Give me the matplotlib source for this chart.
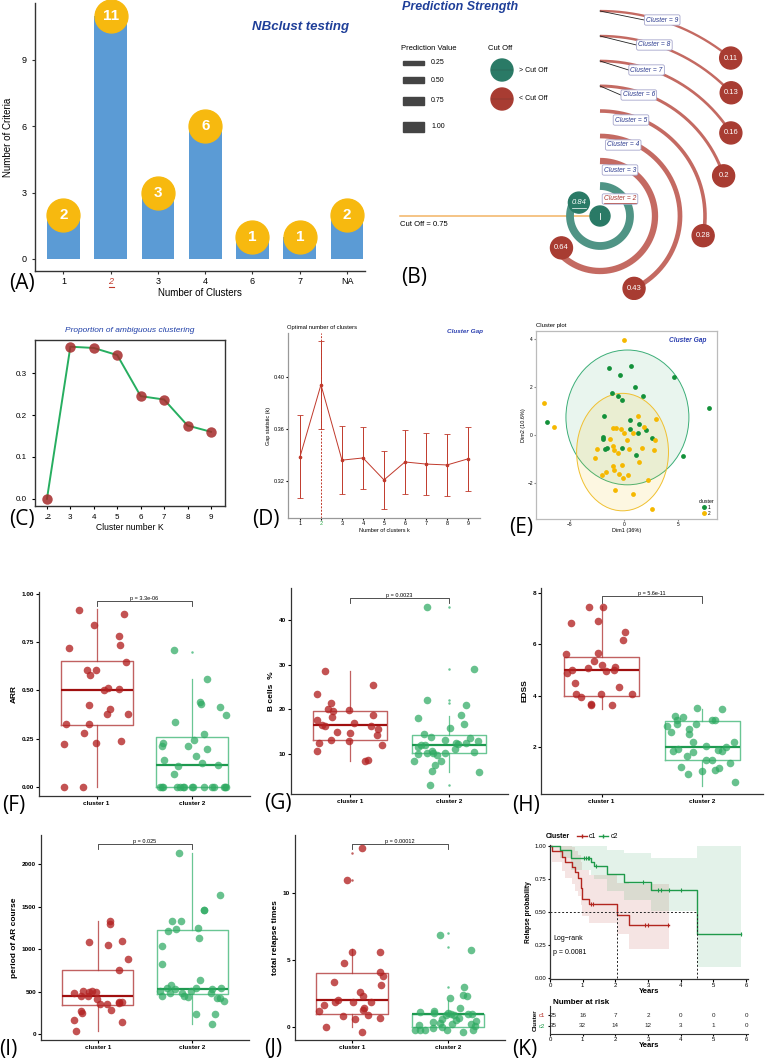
import numpy as np
import matplotlib
matplotlib.use('Agg')
import matplotlib.pyplot as plt
from matplotlib.patches import Circle, Ellipse, Rectangle
from matplotlib.lines import Line2D

plt.rcParams['font.family'] = ['Liberation Sans', 'DejaVu Sans']

# ---- data ----
# (A) NbClust votes
nb_labels = ['1', '2', '3', '4', '6', '7', 'NA']
nb_counts = [2, 11, 3, 6, 1, 1, 2]

# (B) prediction strength
ps_k = [2, 3, 4, 5, 6, 7, 8, 9]
ps_val = [0.84, 0.64, 0.43, 0.28, 0.20, 0.16, 0.13, 0.11]
ps_cutoff = 0.75

# (C) proportion of ambiguous clustering
pac_k = [2, 3, 4, 5, 6, 7, 8, 9]
pac_val = [0.0, 0.363, 0.360, 0.343, 0.245, 0.237, 0.175, 0.160]

# (D) gap statistic
gap_k = [1, 2, 3, 4, 5, 6, 7, 8, 9]
gap_val = [0.3385, 0.394, 0.336, 0.3377, 0.3208, 0.3346, 0.333, 0.3323, 0.337]
gap_se = [0.032, 0.034, 0.026, 0.024, 0.022, 0.0245, 0.024, 0.024, 0.0245]

# (E) cluster plot
e1_x = [-1.38, 0.67, -0.37, 4.63, 1.04, -1.10, -0.55, 1.75, -0.18, 7.82, -7.12, -1.90, 0.52,
        1.41, 0.52, 2.02, 1.32, -1.99, -1.96, 2.61, -1.60, -1.75, -0.18, 1.10, 5.49]
e1_y = [2.81, 2.87, 2.52, 2.43, 1.99, 1.75, 1.64, 1.61, 1.45, 1.12, 0.57, 0.80, 0.62,
        0.48, 0.25, 0.23, 0.10, -0.06, -0.15, -0.11, -0.52, -0.57, -0.51, -0.81, -0.88]
e2_x = [0.03, -7.39, -6.47, 1.26, 2.94, -0.71, -1.04, 1.84, -0.03, 0.86, 2.85, -1.29, 0.28,
        -2.55, -1.04, -0.89, -0.55, 0.43, 1.66, 2.73, -2.67, 1.38, -1.01, -0.18, -0.89,
        -1.69, -2.06, -0.46, 0.37, -0.06, 2.21, -0.80, 0.80, 2.58, -0.25]
e2_y = [3.96, 1.32, 0.36, 0.80, 0.68, 0.30, 0.28, 0.34, 0.08, 0.11, -0.21, -0.17, -0.21,
        -0.57, -0.43, -0.63, -0.72, -0.59, -0.55, -0.62, -0.94, -1.12, -1.28, -1.23, -1.43,
        -1.53, -1.66, -1.63, -1.67, -1.79, -1.85, -2.29, -2.44, -3.06, 0.25]
e1_ell = (0.31, 0.74, 5.69, 2.80)
e2_ell = (-0.14, -0.70, 4.25, 2.44)

# (F) ARR
arr_c1_x = [0.816, 1.288, 0.972, 1.229, 1.243, 0.712, 1.306, 0.896, 0.997, 0.931, 1.118, 1.080, 1.236,
            0.924, 1.142, 1.104, 1.323, 0.681, 0.924, 0.872, 0.660, 0.997, 1.257, 0.660, 0.861]
arr_c1_y = [0.918, 0.894, 0.840, 0.781, 0.736, 0.720, 0.649, 0.604, 0.608, 0.578, 0.512, 0.503, 0.509,
            0.422, 0.406, 0.378, 0.378, 0.325, 0.328, 0.280, 0.224, 0.227, 0.236, 0.0, 0.0]
arr_c2_x = [1.806, 2.153, 1.823, 2.076, 2.094, 2.288, 2.347, 1.694, 1.681, 2.017, 1.958, 2.122, 2.153,
            2.042, 1.705, 1.854, 2.104, 2.267, 1.809, 1.66, 1.684, 1.844, 1.875, 1.91, 1.997, 2.003,
            2.125, 2.205, 2.222, 2.33, 2.34, 2.35, 1.694, 1.903]
arr_c2_y = [0.708, 0.559, 0.339, 0.441, 0.431, 0.415, 0.375, 0.229, 0.214, 0.243, 0.214, 0.276, 0.194,
            0.161, 0.139, 0.111, 0.125, 0.116, 0.068] + [0.0] * 15
arr_box = [dict(med=0.50, q1=0.32, q3=0.65, whislo=0.0, whishi=0.92, fliers=[]),
           dict(med=0.115, q1=0.0, q3=0.26, whislo=0.0, whishi=0.56, fliers=[0.70])]

# (G) B cells %
bc_c1_x = [0.742, 1.227, 0.664, 0.803, 0.780, 0.827, 0.983, 0.814, 1.234, 0.668, 1.034, 0.715, 0.749,
           1.213, 1.285, 0.871, 1.0, 1.271, 0.803, 0.993, 0.688, 1.322, 0.664, 1.149, 1.180]
bc_c1_y = [28.5, 25.4, 23.5, 21.5, 20.0, 19.7, 19.8, 18.2, 18.7, 17.5, 17.0, 16.4, 16.3,
           16.3, 15.5, 14.9, 14.7, 14.2, 13.1, 12.8, 12.5, 11.9, 10.7, 8.5, 8.6]
bc_c2_x = [1.776, 2.254, 1.776, 2.173, 1.685, 2.119, 2.153, 2.010, 1.746, 2.214, 1.820, 1.959, 2.298,
           2.068, 1.715, 1.759, 2.095, 2.173, 1.692, 2.064, 2.254, 1.783, 1.830, 1.837, 1.692,
           1.959, 1.885, 1.925, 1.651, 1.861, 1.827, 2.308, 1.813]
bc_c2_y = [43.0, 29.0, 22.0, 20.9, 18.0, 18.7, 16.7, 15.7, 14.5, 13.6, 13.8, 13.2, 12.9,
           12.5, 12.0, 11.9, 12.2, 12.5, 11.6, 11.2, 10.4, 10.2, 10.6, 10.3, 9.9,
           10.2, 9.7, 8.5, 8.4, 7.5, 6.1, 5.95, 3.0]
bc_box = [dict(med=16.4, q1=13.2, q3=19.6, whislo=8.5, whishi=28.5, fliers=[]),
          dict(med=12.0, q1=10.1, q3=14.2, whislo=6.0, whishi=18.6, fliers=[3.0, 21.5, 22.0, 29.0, 43.0])]

# (H) EDSS
ed_c1_x = [0.874, 1.01, 0.70, 0.964, 1.228, 1.209, 0.652, 0.964, 0.93, 1.0, 0.864, 1.136, 0.705,
           1.043, 1.123, 0.662, 0.738, 1.169, 0.748, 0.795, 0.993, 1.298, 0.894, 0.897, 1.106]
ed_c1_y = [7.44, 7.44, 6.82, 6.90, 6.47, 6.16, 5.61, 5.66, 5.35, 5.19, 5.09, 5.14, 5.0,
           4.97, 5.0, 4.88, 4.50, 4.35, 4.06, 3.97, 4.07, 4.07, 3.68, 3.62, 3.63]
ed_c2_x = [1.947, 2.192, 1.725, 1.811, 1.745, 1.652, 2.096, 2.126, 1.745, 1.937, 1.871, 1.685, 1.864,
           1.904, 2.311, 1.755, 2.033, 2.235, 2.156, 2.192, 1.712, 1.904, 1.844, 2.033, 2.099,
           2.275, 1.785, 2.166, 2.129, 1.993, 1.861, 2.318]
ed_c2_y = [3.53, 3.50, 3.20, 3.17, 3.07, 2.82, 3.06, 3.04, 2.91, 2.91, 2.69, 2.60, 2.50,
           2.18, 2.20, 1.93, 2.03, 2.0, 1.87, 1.86, 1.84, 1.79, 1.66, 1.50, 1.48,
           1.39, 1.22, 1.18, 1.09, 1.06, 0.94, 0.62]
ed_box = [dict(med=5.0, q1=4.0, q3=5.5, whislo=3.5, whishi=7.5, fliers=[]),
          dict(med=2.0, q1=1.5, q3=3.0, whislo=0.5, whishi=3.5, fliers=[])]

# (I) period of AR course
pr_c1_x = [1.126, 1.126, 0.912, 1.109, 1.256, 1.323, 1.228, 0.747, 0.846, 0.905, 0.937, 0.982, 0.828,
           0.895, 0.993, 1.028, 1.098, 1.228, 1.253, 1.221, 1.140, 0.818, 0.835, 0.744, 1.253, 0.772]
pr_c1_y = [1333, 1298, 1086, 1051, 1094, 886, 757, 486, 506, 498, 506, 490, 451,
           447, 412, 353, 349, 376, 372, 368, 282, 270, 243, 165, 137, 39]
pr_c2_x = [1.863, 2.288, 2.123, 2.126, 1.786, 1.881, 2.060, 1.740, 1.832, 2.07, 1.684, 1.677, 2.081,
           1.779, 1.737, 1.818, 1.656, 1.888, 2.042, 2.204, 2.305, 1.677, 1.761, 1.916, 1.958,
           1.982, 2.196, 2.26, 2.291, 2.333, 2.039, 2.239, 2.211]
pr_c2_y = [2129, 1635, 1454, 1454, 1333, 1329, 1250, 1215, 1231, 1125, 1039, 819, 631,
           580, 537, 525, 510, 486, 537, 533, 545, 451, 478, 447, 431,
           510, 486, 427, 419, 392, 235, 231, 118]
pr_box = [dict(med=445, q1=345, q3=755, whislo=30, whishi=1330, fliers=[]),
          dict(med=535, q1=470, q3=1225, whislo=115, whishi=2125, fliers=[])]

# (J) total relapse times
rl_c1_x = [1.103, 0.945, 1.0, 1.286, 0.914, 1.293, 1.317, 0.81, 1.303, 1.086, 1.110, 0.852, 0.814,
           1.010, 1.197, 0.703, 1.128, 1.110, 0.652, 1.169, 0.907, 1.286, 1.028, 0.728, 1.1]
rl_c1_y = [13.35, 11.0, 5.6, 5.63, 4.8, 4.1, 3.83, 3.38, 3.15, 2.6, 2.35, 2.03, 1.88,
           1.88, 1.88, 1.65, 1.43, 1.25, 1.2, 0.93, 0.83, 0.7, 0.6, 0.0, -0.38]
rl_c2_x = [1.914, 2.245, 2.166, 2.021, 2.155, 2.197, 2.131, 1.707, 1.859, 1.859, 2.0, 2.038, 2.066,
           1.979, 2.214, 2.255, 2.117, 1.945, 2.09, 2.297, 1.841, 1.921, 1.697, 2.048, 2.245,
           2.283, 1.662, 1.707, 1.762, 1.845, 1.997, 1.938, 2.162, 2.266]
rl_c2_y = [6.85, 5.73, 2.98, 2.18, 2.4, 2.33, 1.43, 1.1, 1.23, 1.05, 1.05, 0.95, 0.88,
           0.9, 1.0, 0.98, 0.7, 0.63, 0.55, 0.48, 0.35, 0.3, 0.13, 0.23, 0.25,
           0.05, -0.2, -0.25, -0.2, -0.05, -0.25, 0.0, -0.38, -0.2]
rl_box = [dict(med=2, q1=1, q3=4, whislo=0, whishi=5.8, fliers=[11, 13]),
          dict(med=1, q1=0, q3=1, whislo=0, whishi=2, fliers=[3, 6, 7])]

# (K) Kaplan-Meier
km1_t = [0, 0.07, 0.36, 0.46, 0.66, 0.76, 0.86, 0.94, 0.99, 1.2, 2.05, 2.41, 3.65]
km1_s = [1.0, 0.96, 0.92, 0.88, 0.84, 0.80, 0.76, 0.68, 0.60, 0.56, 0.48, 0.40, 0.40]
km1_lo = [1.0, 0.88, 0.81, 0.76, 0.71, 0.66, 0.62, 0.55, 0.47, 0.42, 0.33, 0.22, 0.22]
km1_hi = [1.0, 1.0, 1.0, 1.0, 0.99, 0.96, 0.93, 0.88, 0.82, 0.78, 0.72, 0.71, 0.71]
km1_cens = [1.25, 1.32, 2.9, 3.0, 3.6]
km2_t = [0, 0.30, 0.64, 1.25, 1.35, 1.74, 2.25, 3.1, 4.5, 5.85]
km2_s = [1.0, 0.97, 0.91, 0.88, 0.85, 0.79, 0.73, 0.67, 0.335, 0.335]
km2_lo = [1.0, 0.91, 0.82, 0.78, 0.75, 0.66, 0.59, 0.51, 0.08, 0.08]
km2_hi = [1.0, 1.0, 1.0, 1.0, 1.0, 0.97, 0.95, 0.91, 1.0, 1.0]
km2_cens = [1.05, 1.1, 1.15, 1.2, 1.4, 2.85, 3.3, 3.4, 3.65, 4.0, 5.85]
risk_t = [0, 1, 2, 3, 4, 5, 6]
risk_c1 = [25, 16, 7, 2, 0, 0, 0]
risk_c2 = [35, 32, 14, 12, 3, 1, 0]

# ---- figure ----
W, H = 765, 1061
fig = plt.figure(figsize=(W / 100, H / 100), dpi=100)

RED = '#a8352f'
BLUE_T = '#1f3f99'


def add_ax(l, t, r, b):
    return fig.add_axes([l / W, 1 - b / H, (r - l) / W, (b - t) / H])


def ftext(x, y, s, **kw):
    fig.text(x / W, 1 - y / H, s, **kw)


def uline(xc, y, w, color, lw=0.8):
    fig.add_artist(Line2D([(xc - w / 2) / W, (xc + w / 2) / W], [1 - y / H, 1 - y / H],
                          color=color, lw=lw))


def classic(ax, color='#333333', lw=1.0):
    for s in ['top', 'right']:
        ax.spines[s].set_visible(False)
    for s in ['left', 'bottom']:
        ax.spines[s].set_color(color)
        ax.spines[s].set_linewidth(lw)


# panel labels
for lab, x, y in [('(A)', 22, 283), ('(B)', 414, 277), ('(C)', 22, 520), ('(D)', 266, 519),
                  ('(E)', 521, 527), ('(F)', 14, 806), ('(G)', 278, 803), ('(H)', 526, 805),
                  ('(I)', 8, 1049), ('(J)', 273, 1048), ('(K)', 525, 1050)]:
    ftext(x, y, lab, fontsize=15, ha='center', va='center', family=['Open Sans', 'DejaVu Sans'])

# ---- A ----
ax = add_ax(35, 3, 365, 271)
xa = np.arange(len(nb_labels))
ax.bar(xa, nb_counts, width=0.69, color='#5b9bd5')
ax.scatter(xa, nb_counts, s=560, color='#f7b90f', zorder=3, clip_on=False)
for i, v in zip(xa, nb_counts):
    ax.text(i, v, str(v), ha='center', va='center', color='white', fontsize=11,
            fontweight='bold', zorder=4)
ax.set_xlim(-0.6, 6.38)
ax.set_ylim(-0.55, 11.57)
ax.set_yticks([0, 3, 6, 9])
ax.set_xticks(xa)
ax.set_xticklabels(nb_labels)
classic(ax)
ax.tick_params(labelsize=6.5, length=2.5, color='#333333')
ax.tick_params(axis='x', pad=2)
ax.get_xticklabels()[1].set_color('#c0392b')
ax.get_xticklabels()[1].set_style('italic')
uline(111, 287, 5, '#c0392b')
ax.set_xlabel('Number of Clusters', fontsize=7, labelpad=1)
ax.set_ylabel('Number of Criteria', fontsize=7, labelpad=6)
ftext(301, 27, 'NBclust testing', fontsize=9.5, fontweight='bold', style='italic',
      color=BLUE_T, ha='center', va='center')

# ---- B ----
axB = add_ax(380, 0, 765, 300)
axB.set_xlim(380, 765)
axB.set_ylim(300, 0)
axB.axis('off')
cx, cy = 600, 216
axB.plot([400, cx], [cy, cy], color='#f2b465', lw=1.1, zorder=1)
axB.text(400, 224, 'Cut Off = 0.75', fontsize=5.5, va='center', ha='left')
for k, v in zip(ps_k, ps_val):
    r = 25 * k - 20
    good = v > ps_cutoff
    ccol = '#2a7a66' if good else '#a83c32'
    acol = '#4f9485' if good else '#c46a62'
    t = np.linspace(0, 2 * np.pi * v, 200)
    axB.plot(cx + r * np.sin(t), cy - r * np.cos(t), color=acol,
             lw=(1.5 + 7.5 * v) * 0.72, solid_capstyle='butt', zorder=2)
    rr = r - 5 if k <= 3 else r
    ex, ey = cx + rr * np.sin(t[-1]), cy - rr * np.cos(t[-1])
    axB.add_patch(Circle((ex, ey), 10.5 if good else 11, color=ccol, zorder=4))
    axB.text(ex, ey, f'{v:g}', ha='center', va='center', color='white', fontsize=5.5,
             style='italic' if good else 'normal', zorder=5)
    if good:
        axB.plot([ex - 7, ex + 7], [ey + 5, ey + 5], color='white', lw=0.5, zorder=5)
    lx = cx + max(7.8 * k - 8, 20)
    ly = cy - r + (13 if k == 2 else 9)
    if k >= 6:
        axB.plot([cx, lx - 18], [cy - r, ly], color='#222222', lw=0.6, zorder=3)
    axB.text(lx, ly, f'Cluster = {k}', ha='center', va='center', fontsize=4.8, style='italic',
             color=RED if k == 2 else '#2b3a8f', zorder=6,
             bbox=dict(boxstyle='round,pad=0.25', fc='white', ec='#a6a6cc', lw=0.6))
    if k == 2:
        axB.plot([lx - 16, lx + 16], [ly + 4, ly + 4], color=RED, lw=0.5, zorder=7)
axB.add_patch(Circle((cx, cy), 10, color='#2a7a66', zorder=4))
axB.plot([cx, cx], [cy - 3, cy + 3], color='white', lw=0.6, zorder=5)
axB.text(402, 7, 'Prediction Strength', fontsize=9, fontweight='bold', style='italic',
         color=BLUE_T, va='center', ha='left')
axB.text(401, 48, 'Prediction Value', fontsize=5.5, va='center', ha='left')
for lv, yy in zip([0.25, 0.50, 0.75, 1.00], [63, 80, 101, 127]):
    hh = 2.5 + 7 * lv
    axB.add_patch(Rectangle((403, yy - hh / 2), 21, hh, color='#444444'))
    axB.text(431, yy, f'{lv:.2f}', fontsize=5, va='center', ha='left')
axB.text(488, 48, 'Cut Off', fontsize=5.5, va='center', ha='left')
for col, yy, lab in [('#2a7a66', 70, '> Cut Off'), ('#a83c32', 99, '< Cut Off')]:
    axB.add_patch(Circle((502, yy), 11, color=col))
    axB.plot([491, 513], [yy, yy], color='#333333', lw=0.3, alpha=0.5)
    axB.text(519, yy, lab, fontsize=5, va='center', ha='left')

# ---- C ----
ax = add_ax(35, 340, 225, 506)
ax.plot(pac_k, pac_val, color='#27ae60', lw=1.4, zorder=2)
ax.plot(pac_k, pac_val, 'o', color='#a52a2a', alpha=0.85, ms=7.5, mec='none', zorder=3)
ax.set_xlim(1.49, 9.6)
ax.set_ylim(-0.017, 0.379)
ax.set_yticks([0.0, 0.1, 0.2, 0.3])
ax.set_xticks(pac_k)
for s in ax.spines.values():
    s.set_color('#333333')
    s.set_linewidth(1.0)
ax.tick_params(labelsize=5.8, length=2.5)
ax.get_xticklabels()[0].set_style('italic')
uline(47, 518, 5, '#333333', lw=0.6)
ax.set_xlabel('Cluster number K', fontsize=6.2, labelpad=1)
ftext(130, 330, 'Proportion of ambiguous clustering', fontsize=6, style='italic',
      color='#1f3fa8', ha='center', va='center')

# ---- D ----
ax = add_ax(288, 333, 480, 518)
ax.errorbar(gap_k, gap_val, yerr=gap_se, color='#c0392b', lw=0.7, capsize=2.2,
            capthick=0.6, marker='o', ms=1.6, elinewidth=0.7)
ax.axvline(2, color='#c0392b', lw=0.7, ls=(0, (2, 1.5)))
ax.set_xlim(0.43, 9.57)
ax.set_ylim(0.2915, 0.4338)
ax.set_yticks([0.32, 0.36, 0.40])
ax.set_xticks(gap_k)
classic(ax, color='#999999', lw=0.9)
ax.tick_params(labelsize=4, length=1.5, pad=1)
ax.get_xticklabels()[1].set_color('#2eaa4a')
ax.set_xlabel('Number of clusters k', fontsize=4, labelpad=1)
ax.set_ylabel('Gap statistic (k)', fontsize=4, labelpad=2)
ftext(287, 327, 'Optimal number of clusters', fontsize=4.2, va='center', ha='left')
ftext(447, 331, 'Cluster Gap', fontsize=4.6, fontweight='bold', style='italic',
      color='#2b3fb0', va='center', ha='left')

# ---- E ----
ax = add_ax(536, 331, 717, 519)
ax.add_patch(Ellipse(e1_ell[:2], 2 * e1_ell[2], 2 * e1_ell[3], fc='#2e9e5b', alpha=0.1))
ax.add_patch(Ellipse(e1_ell[:2], 2 * e1_ell[2], 2 * e1_ell[3], fc='none', ec='#3cae78', lw=0.7))
ax.add_patch(Ellipse(e2_ell[:2], 2 * e2_ell[2], 2 * e2_ell[3], fc='#f5c518', alpha=0.13))
ax.add_patch(Ellipse(e2_ell[:2], 2 * e2_ell[2], 2 * e2_ell[3], fc='none', ec='#f0c030', lw=0.7))
ax.scatter(e1_x, e1_y, s=12, color='#13913a', zorder=3, lw=0)
ax.scatter(e2_x, e2_y, s=12, color='#f5b800', zorder=3, lw=0)
ax.set_xlim(-8.15, 8.6)
ax.set_ylim(-3.48, 4.33)
ax.set_xticks([-5, 0, 5])
ax.set_yticks([-2, 0, 2, 4])
for s in ax.spines.values():
    s.set_color('#bbbbbb')
    s.set_linewidth(0.9)
ax.tick_params(labelsize=3.5, length=1.2, pad=1, color='#888888')
ax.set_xlabel('Dim1 (36%)', fontsize=4, labelpad=1)
ax.set_ylabel('Dim2 (10.6%)', fontsize=4, labelpad=1)
ftext(536, 326, 'Cluster plot', fontsize=4.3, va='center', ha='left')
ax.text(0.94, 0.95, 'Cluster Gap', transform=ax.transAxes, fontsize=4.8, fontweight='bold',
        style='italic', color='#2b3fb0', ha='right', va='center')
hdl = [Line2D([], [], marker='o', ls='', color='#13913a', ms=2.5, mec='#13913a'),
       Line2D([], [], marker='o', ls='', color='#f5b800', ms=2.5, mec='#f5b800')]
ax.legend(hdl, ['1', '2'], title='cluster', loc='lower right', fontsize=3.5,
          title_fontsize=3.8, frameon=False, handlelength=1, borderaxespad=0.2,
          labelspacing=0.2, handletextpad=0.3)


# ---- F-J boxplots ----
def box_panel(rect, x1, y1, x2, y2, stats, ylim, yticks, fmt, ylabel, ptxt, py):
    ax = add_ax(*rect)
    res = ax.bxp(stats, positions=[1, 2], widths=0.75, showcaps=False,
                 flierprops=dict(marker='o', ms=1.8, mec='none'))
    for i, (ec, mc) in enumerate([('#b23a3a', '#a00f0f'), ('#45b87a', '#1e9950')]):
        res['boxes'][i].set(color=ec, lw=1.0, alpha=0.8)
        res['medians'][i].set(color=mc, lw=1.6)
        for w in res['whiskers'][2 * i:2 * i + 2]:
            w.set(color=ec, lw=0.9, alpha=0.8)
        res['fliers'][i].set(markerfacecolor=ec, alpha=0.8)
    ax.scatter(x1, y1, s=30, color='#b22222', alpha=0.78, lw=0, zorder=3)
    ax.scatter(x2, y2, s=30, color='#2eaa62', alpha=0.72, lw=0, zorder=3)
    ax.plot([1, 1, 2, 2], py, color='#333333', lw=0.6)
    ax.text(1.5, py[1], ptxt, ha='center', va='bottom', fontsize=4)
    ax.set_xlim(0.4, 2.6)
    ax.set_ylim(*ylim)
    ax.set_yticks(yticks)
    ax.set_yticklabels([fmt.format(v) for v in yticks])
    ax.set_xticks([1, 2])
    ax.set_xticklabels(['cluster 1', 'cluster 2'])
    classic(ax, color='#333333', lw=0.9)
    ax.tick_params(labelsize=4.6, length=2, pad=1.5)
    for lb in ax.get_xticklabels() + ax.get_yticklabels():
        lb.set_fontweight('bold')
    ax.set_ylabel(ylabel, fontsize=6, fontweight='bold', labelpad=3)
    return ax


box_panel((39, 592, 250, 796), arr_c1_x, arr_c1_y, arr_c2_x, arr_c2_y, arr_box,
          (-0.047, 1.01), [0, 0.25, 0.5, 0.75, 1.0], '{:.2f}', 'ARR', 'p = 3.3e-06',
          [0.937, 0.963, 0.963, 0.937])
box_panel((291, 588, 508, 794), bc_c1_x, bc_c1_y, bc_c2_x, bc_c2_y, bc_box,
          (1.0, 47.2), [10, 20, 30, 40], '{:d}', 'B cells  %', 'p = 0.0023',
          [43.9, 45.06, 45.06, 43.9])
box_panel((541, 588, 763, 794), ed_c1_x, ed_c1_y, ed_c2_x, ed_c2_y, ed_box,
          (0.17, 8.2), [2, 4, 6, 8], '{:d}', 'EDSS', 'p = 5.6e-11',
          [7.63, 7.87, 7.87, 7.63])
box_panel((41, 835, 249, 1040), pr_c1_x, pr_c1_y, pr_c2_x, pr_c2_y, pr_box,
          (-70, 2341), [0, 500, 1000, 1500, 2000], '{:d}', 'period of AR course', 'p = 0.025',
          [2180, 2234, 2234, 2180])
box_panel((295, 835, 505, 1040), rl_c1_x, rl_c1_y, rl_c2_x, rl_c2_y, rl_box,
          (-0.975, 14.35), [0, 5, 10], '{:d}', 'total relapse times', 'p = 0.00012',
          [13.3, 13.65, 13.65, 13.3])

# ---- K ----
ax = add_ax(550, 845, 748, 979)
KR, KG = '#b2261f', '#1f9a4a'
ax.fill_between(km1_t, km1_lo, km1_hi, step='post', color=KR, alpha=0.12, lw=0)
ax.fill_between(km2_t, km2_lo, km2_hi, step='post', color=KG, alpha=0.12, lw=0)
ax.step(km1_t, km1_s, where='post', color=KR, lw=1.0)
ax.step(km2_t, km2_s, where='post', color=KG, lw=1.0)
for ts, ss, cens, col in [(km1_t, km1_s, km1_cens, KR), (km2_t, km2_s, km2_cens, KG)]:
    idx = np.searchsorted(ts, cens, side='right') - 1
    ax.plot(cens, np.array(ss)[idx], '|', color=col, ms=3, mew=0.8)
med1 = km1_t[next(i for i, s in enumerate(km1_s) if s <= 0.5)]
med2 = km2_t[next(i for i, s in enumerate(km2_s) if s <= 0.5)]
ax.plot([0, max(med1, med2)], [0.5, 0.5], color='#222222', lw=0.7, ls=(0, (2, 2)))
for m in [med1, med2]:
    ax.plot([m, m], [0, 0.5], color='#222222', lw=0.7, ls=(0, (2, 2)))
ax.text(0.09, 0.30, 'Log\u2212rank', fontsize=5, va='center')
ax.text(0.09, 0.19, 'p = 0.0081', fontsize=5, va='center')
ax.set_xlim(0, 6.06)
ax.set_ylim(-0.008, 1.008)
ax.set_xticks(risk_t)
ax.set_yticks([0, 0.25, 0.5, 0.75, 1.0])
ax.set_yticklabels(['0.00', '0.25', '0.50', '0.75', '1.00'])
classic(ax, color='#333333', lw=0.9)
ax.tick_params(labelsize=4.3, length=1.8, pad=1)
ax.set_xlabel('Years', fontsize=5.5, fontweight='bold', labelpad=0)
ax.set_ylabel('Relapse probability', fontsize=4.8, fontweight='bold', labelpad=2)
# legend
ax.text(-0.02, 1.065, 'Cluster', transform=ax.transAxes, fontsize=5, fontweight='bold',
        va='center', ha='left')
for xx, col, lab in [(0.135, KR, 'c1'), (0.245, KG, 'c2')]:
    ax.plot([xx, xx + 0.05], [1.065, 1.065], color=col, lw=1, transform=ax.transAxes,
            clip_on=False)
    ax.plot([xx + 0.025], [1.065], '|', color=col, ms=3, transform=ax.transAxes, clip_on=False)
    ax.text(xx + 0.06, 1.065, lab, transform=ax.transAxes, fontsize=5, va='center')

# risk table
axr = add_ax(550, 1006, 748, 1034)
for yy, vals in [(1, risk_c1), (2, risk_c2)]:
    for tt, n in zip(risk_t, vals):
        axr.text(tt, yy, str(n), ha='left' if tt == 0 else 'center', va='center',
                 fontsize=4.5, color='#222222')
axr.set_xlim(0, 6.06)
axr.set_ylim(2.73, 0.18)
axr.set_yticks([1, 2])
axr.set_yticklabels(['c1', 'c2'])
axr.get_yticklabels()[0].set_color(KR)
axr.get_yticklabels()[1].set_color(KG)
axr.set_xticks(risk_t)
classic(axr, color='#333333', lw=0.8)
axr.tick_params(labelsize=4.3, length=1.5, pad=1)
axr.tick_params(axis='y', pad=2)
axr.set_xlabel('Years', fontsize=5.5, fontweight='bold', labelpad=0)
axr.set_ylabel('Cluster', fontsize=4.5, fontweight='bold', labelpad=1)
ftext(553, 1002, 'Number at risk', fontsize=5.8, fontweight='bold', va='center', ha='left')

fig.savefig('out.png', dpi=100)
